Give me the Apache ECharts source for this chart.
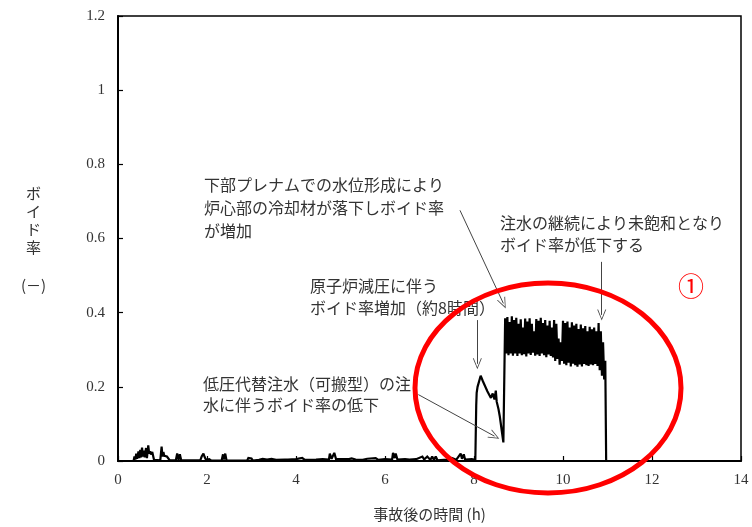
<!DOCTYPE html>
<html>
<head>
<meta charset="utf-8">
<script src="https://cdn.jsdelivr.net/npm/echarts@6/dist/echarts.min.js"></script>
<style>
  html, body { margin: 0; padding: 0; background: #fff; }
  #main { width: 752px; height: 527px; }
</style>
</head>
<body>
<div id="main"></div>
<script>
// 事故後の時間 (h) とボイド率 (-)
// 0〜8h : 小さなノイズ
var noiseTime = [0.00, 0.35, 0.37, 0.39, 0.41, 0.43, 0.46, 0.48, 0.50, 0.52, 0.54, 0.56, 0.58, 0.60, 0.63, 0.65, 0.68, 0.70,
  0.72, 0.74, 0.77, 0.80, 0.81, 0.95, 0.98, 1.00, 1.02, 1.04, 1.07, 1.10, 1.13, 1.16,
  1.30, 1.33, 1.36, 1.39, 1.42, 1.85, 1.88, 1.92, 1.95, 1.98, 2.05, 2.10,
  2.33, 2.36, 2.38, 2.41, 2.44, 2.90, 2.93, 2.96, 3.00, 3.03, 3.17, 3.25, 3.35, 3.45, 3.55, 3.75, 3.78, 3.82, 4.00,
  4.14, 4.20, 4.45, 4.60, 4.74, 4.76, 4.80, 4.86, 4.90, 5.19, 5.25, 5.34, 5.50, 5.60, 5.79, 5.85, 6.00, 6.16, 6.18,
  6.22, 6.24, 6.28, 6.45, 6.55, 6.70, 6.84, 6.88, 6.95, 7.02, 7.06, 7.10, 7.14, 7.18, 7.40, 7.50, 7.60, 7.70, 7.73,
  7.77, 7.80, 7.95, 8.03];
var noiseVoid = [0, 0, 0.012, 0.004, 0.020, 0.006, 0.026, 0.008, 0.030, 0.010, 0.036, 0.012, 0.028, 0.010, 0.035, 0.008, 0.042, 0.020,
  0.026, 0.018, 0.024, 0.020, 0.003, 0.002, 0.039, 0.012, 0.024, 0.014, 0.016, 0.012, 0.014, 0.002,
  0.002, 0.020, 0.003, 0.018, 0.002, 0.002, 0.012, 0.020, 0.010, 0.003, 0.005, 0.001,
  0.002, 0.018, 0.004, 0.020, 0.001, 0.001, 0.008, 0.003, 0.007, 0.001, 0.003, 0.006, 0.004, 0.006, 0.003, 0.004, 0.009, 0.004, 0.005,
  0.008, 0.003, 0.004, 0.005, 0.004, 0.020, 0.006, 0.022, 0.005, 0.005, 0.007, 0.004, 0.003, 0.006, 0.008, 0.003, 0.005, 0.004, 0.022,
  0.008, 0.020, 0.004, 0.005, 0.004, 0.005, 0.012, 0.004, 0.012, 0.003, 0.012, 0.003, 0.012, 0.002, 0.004, 0.008, 0.003, 0.020, 0.006,
  0.018, 0.004, 0.005, 0.003];

// 8h 付近 : 減圧によるボイド率増加と注水による低下
var riseTime = [8.04, 8.05, 8.06, 8.08, 8.15, 8.20, 8.30, 8.38, 8.42, 8.46, 8.49, 8.51, 8.55, 8.58, 8.62, 8.66, 8.68];
var riseVoid = [0.006, 0.150, 0.184, 0.200, 0.230, 0.215, 0.188, 0.170, 0.182, 0.166, 0.190, 0.160, 0.140, 0.120, 0.085, 0.050, 0.045];

// 8.7h〜11h : 振動するボイド率 (0.025h 刻み)
var bandStart = 8.70, bandStep = 0.025;
var bandVoid = [0.385, 0.290, 0.388, 0.285, 0.375, 0.290, 0.390, 0.284, 0.380, 0.290,
  0.386, 0.283, 0.370, 0.290, 0.382, 0.285, 0.360, 0.288, 0.384, 0.282,
  0.376, 0.290, 0.385, 0.286, 0.370, 0.292, 0.350, 0.284, 0.383, 0.287,
  0.378, 0.283, 0.386, 0.290, 0.372, 0.285, 0.380, 0.280, 0.365, 0.287,
  0.378, 0.283, 0.360, 0.279, 0.380, 0.270, 0.370, 0.275, 0.330, 0.260,
  0.320, 0.270, 0.378, 0.262, 0.372, 0.258, 0.376, 0.265, 0.360, 0.255,
  0.374, 0.262, 0.365, 0.258, 0.370, 0.254, 0.356, 0.260, 0.368, 0.255,
  0.358, 0.262, 0.364, 0.258, 0.350, 0.256, 0.362, 0.260, 0.355, 0.258,
  0.360, 0.262, 0.350, 0.256, 0.372, 0.245, 0.350, 0.230, 0.320, 0.220,
  0.270];

// 11h 以降 : ボイド率ゼロ
var dropTime = [10.97, 14.0];
var dropVoid = [0, 0];

var xTicks = [0, 2, 4, 6, 8, 10, 12, 14];
var yTicks = [0, 0.2, 0.4, 0.6, 0.8, 1, 1.2];

var curve = [];
noiseTime.forEach(function (t, i) { curve.push([t, noiseVoid[i]]); });
riseTime.forEach(function (t, i) { curve.push([t, riseVoid[i]]); });
bandVoid.forEach(function (v, i) { curve.push([+(bandStart + i * bandStep).toFixed(3), v]); });
dropTime.forEach(function (t, i) { curve.push([t, dropVoid[i]]); });

var JP = "'Noto Sans CJK JP', sans-serif";
var NUM = "'Liberation Serif', 'DejaVu Serif', serif";
var TXT = '#333';
// 白抜きの矢じり
var openArrow = 'path://M5,0 L10,10 L9,10 L5,1.8 L1,10 L0,10 Z';

function arrow(x1, y1, x2, y2) {
  return [{ coord: [x1, y1] }, { coord: [x2, y2] }];
}

var chart = echarts.init(document.getElementById('main'));
chart.setOption({
  animation: false,
  backgroundColor: '#fff',
  grid: {
    left: 118, right: 11, top: 16, bottom: 65,
    show: true, borderColor: '#000', borderWidth: 1.5, backgroundColor: 'transparent'
  },
  xAxis: {
    type: 'value', min: xTicks[0], max: xTicks[xTicks.length - 1], interval: 2,
    name: '事故後の時間 (h)', nameLocation: 'middle', nameGap: 46,
    nameTextStyle: { fontFamily: JP, fontSize: 15, color: TXT },
    axisLine: { onZero: false, lineStyle: { color: '#000', width: 2 } },
    axisTick: { inside: true, length: 5, lineStyle: { color: '#000', width: 1.2 } },
    axisLabel: { fontFamily: NUM, fontSize: 15, color: TXT, margin: 12 },
    splitLine: { show: false }
  },
  yAxis: {
    type: 'value', min: yTicks[0], max: yTicks[yTicks.length - 1], interval: 0.2,
    axisLine: { show: true, lineStyle: { color: '#000', width: 2 } },
    axisTick: { show: true, inside: true, length: 5, lineStyle: { color: '#000', width: 1.2 } },
    axisLabel: { fontFamily: NUM, fontSize: 15, color: TXT, margin: 13 },
    splitLine: { show: false }
  },
  series: [{
    type: 'line',
    data: curve,
    showSymbol: false,
    lineStyle: { color: '#000', width: 2.2, join: 'miter', miterLimit: 2 },
    z: 3,
    markLine: {
      silent: true,
      symbol: ['none', openArrow],
      symbolSize: [9, 11],
      label: { show: false },
      lineStyle: { color: '#444', width: 1, type: 'solid' },
      data: [
        arrow(7.685, 0.676, 8.66, 0.425),
        arrow(8.075, 0.380, 8.075, 0.262),
        arrow(10.87, 0.537, 10.87, 0.394),
        arrow(6.75, 0.179, 8.46, 0.067)
      ]
    }
  }],
  graphic: [
    {
      type: 'text', left: 26, top: 184, z: 10,
      style: { text: 'ボ\nイ\nド\n率', fontFamily: JP, fontSize: 15, lineHeight: 18, fill: TXT, align: 'center' }
    },
    {
      type: 'text', left: 21, top: 278, z: 10,
      style: { text: '(－)', fontFamily: JP, fontSize: 15, fill: TXT }
    },
    {
      type: 'text', left: 204, top: 173, z: 10,
      style: { text: '下部プレナムでの水位形成により\n炉心部の冷却材が落下しボイド率\nが増加', fontFamily: JP, fontSize: 16, lineHeight: 23, fill: TXT }
    },
    {
      type: 'text', left: 310, top: 275, z: 10,
      style: { text: '原子炉減圧に伴う\nボイド率増加（約8時間）', fontFamily: JP, fontSize: 16, lineHeight: 22, fill: TXT }
    },
    {
      type: 'text', left: 500, top: 212, z: 10,
      style: { text: '注水の継続により未飽和となり\nボイド率が低下する', fontFamily: JP, fontSize: 16, lineHeight: 22, fill: TXT }
    },
    {
      type: 'text', left: 203, top: 373, z: 10,
      style: { text: '低圧代替注水（可搬型）の注\n水に伴うボイド率の低下', fontFamily: JP, fontSize: 16, lineHeight: 21, fill: TXT }
    },
    {
      type: 'ellipse', z: 20,
      shape: { cx: 548, cy: 388, rx: 133, ry: 105 },
      style: { fill: null, stroke: '#ff0000', lineWidth: 5 }
    },
    {
      type: 'text', left: 678, top: 273, z: 20,
      style: { text: '①', fontFamily: JP, fontSize: 26, fill: '#ff0000' }
    }
  ]
});
</script>
</body>
</html>
